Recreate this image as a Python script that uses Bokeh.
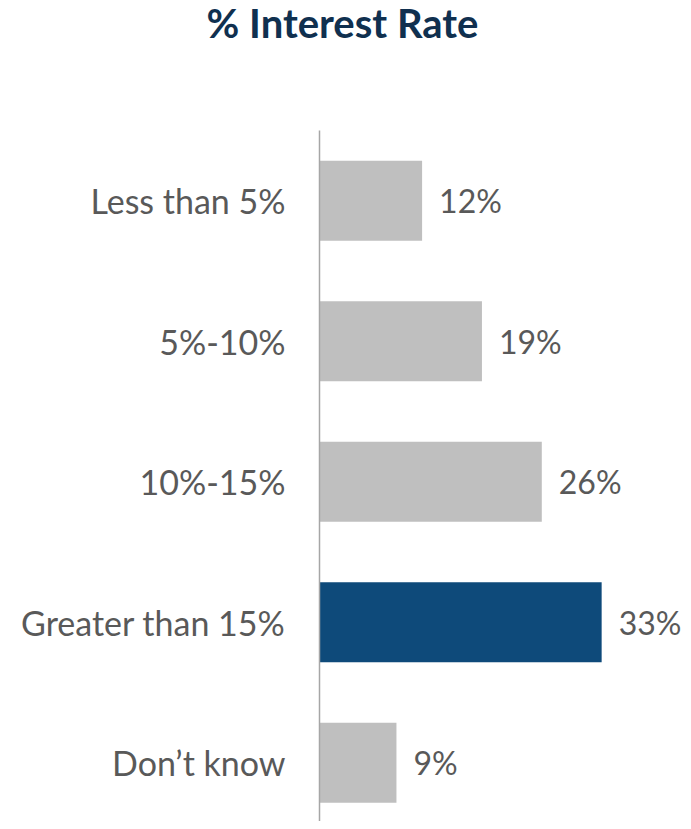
from bokeh.plotting import figure
from bokeh.models import Range1d, FixedTicker, ColumnDataSource, Div
from bokeh.layouts import column
from bokeh.embed import file_html
from bokeh.resources import INLINE
from bokeh.core.properties import value

categories = ["Less than 5%", "5%-10%", "10%-15%", "Greater than 15%", "Don\u2019t know"]
values = [12, 19, 26, 33, 9]
colors = ["#bfbfbf", "#bfbfbf", "#bfbfbf", "#0e4a7a", "#bfbfbf"]
title_text = "% Interest Rate"

pos = list(range(len(categories)))
src = ColumnDataSource(dict(y=pos, v=values, c=colors,
                            lab=[f"{v}%" for v in values]))

title = Div(text=title_text, width=683, height=50,
            styles={"font-family": "Lato", "font-size": "40px", "font-weight": "bold",
                    "color": "#10304f", "text-align": "center", "line-height": "37px",
                    "width": "683px", "position": "relative", "left": "-4px"})

p = figure(width=683, height=761, output_backend="svg", toolbar_location=None,
           x_range=Range1d(0, 364 / 8.55), y_range=Range1d(4.418, -0.5),
           min_border_left=319, min_border_right=0, min_border_bottom=0,
           min_border_top=70, outline_line_color=None)

p.hbar(y="y", right="v", left=0, height=0.57, color="c", source=src, line_color=None)
p.text(x="v", y="y", text="lab", source=src, x_offset=17, text_baseline="middle",
       text_align="left", text_font=value("Lato"), text_font_size="32px",
       text_color="#595959")

p.xaxis.visible = False
p.xgrid.visible = False
p.ygrid.visible = False
ax = p.yaxis[0]
ax.ticker = FixedTicker(ticks=pos)
ax.major_label_overrides = {i: c for i, c in zip(pos, categories)}
ax.major_label_text_font = "Lato"
ax.major_label_text_font_size = "34px"
ax.major_label_text_color = "#595959"
ax.major_tick_line_color = None
ax.minor_tick_line_color = None
ax.major_label_standoff = 28
ax.axis_line_color = "#a6a6a6"
ax.axis_line_width = 1.5

layout = column(title, p, spacing=0)
open("out.html", "w").write(file_html(layout, INLINE))
